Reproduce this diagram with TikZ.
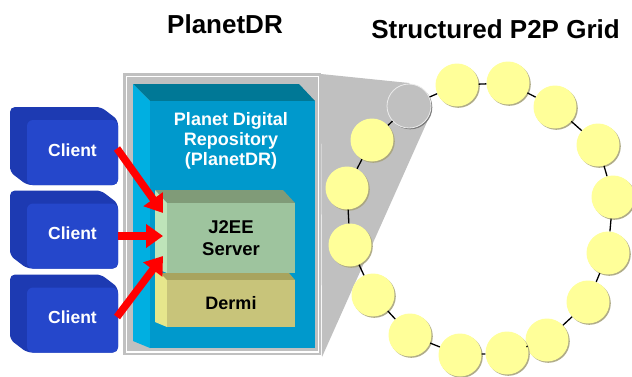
\documentclass[tikz,border=0pt]{standalone}
\usepackage{fontspec}
\setmainfont{Liberation Sans}
\usetikzlibrary{arrows.meta,calc,shadows}
\definecolor{clfront}{HTML}{2547CB}
\definecolor{clback}{HTML}{1D3AB2}
\definecolor{bfront}{HTML}{0099CC}
\definecolor{btop}{HTML}{007896}
\definecolor{bleft}{HTML}{00AFE1}
\definecolor{jfront}{HTML}{9EC49E}
\definecolor{jtop}{HTML}{809B78}
\definecolor{jleft}{HTML}{BEE4B9}
\definecolor{dfront}{HTML}{C8C47A}
\definecolor{dtop}{HTML}{A8A45E}
\definecolor{dleft}{HTML}{E6E68C}
\definecolor{framegray}{HTML}{C0C0C0}
\definecolor{ringyellow}{HTML}{FFFF99}
\definecolor{ringshadow}{HTML}{A8A47C}
\definecolor{arrowred}{HTML}{FF0000}
\begin{document}
\begin{tikzpicture}[x=1pt,y=-1pt,
  title/.style={font=\fontsize{26}{30}\selectfont\bfseries, inner sep=0pt},
  boxtext/.style={font=\fontsize{18}{20}\selectfont\bfseries, align=center},
  face/.style={inner sep=0pt, outer sep=0pt, draw=none},
  clientface/.style={face, fill=clfront, rounded corners=6pt, minimum width=91pt,
     minimum height=65pt, text=white, font=\fontsize{17.5}{20}\selectfont\bfseries, text depth=5pt},
  redarrow/.style={draw=arrowred, line width=7.5pt, -{Triangle[width=23pt,length=17pt]}},
  ycirc/.style={circle, minimum size=43pt, inner sep=0pt, fill=ringyellow,
     drop shadow={shadow xshift=1.3pt, shadow yshift=-1.3pt, fill=ringshadow, opacity=0.9}},
  gcirc/.style={circle, minimum size=44pt, inner sep=0pt, fill=framegray, draw=white!85!gray, line width=0.8pt,
     drop shadow={shadow xshift=1.3pt, shadow yshift=-1.3pt, fill=gray!90!black, opacity=0.9}},
  ringline/.style={draw=black, line width=1.3pt}
]
\useasboundingbox (0,0) rectangle (632,376);
\fill[white] (0,0) rectangle (632,376);

% titles
\node[title, anchor=base] (t1) at (225,33) {PlanetDR};
\node[title, anchor=base] (t2) at (495.5,38) {Structured P2P Grid};

% frame and wedge
\fill[framegray] (123,73) rectangle (321,355);
\draw[white, line width=1.8pt] (126.5,76.5) rectangle (318.5,352);
\fill[framegray] (321,74) -- (409,83) -- (431,113) -- (322,357) -- cycle;

% PlanetDR box
\fill[btop] (133,84) -- (299,84) -- (315,101) -- (150,101) -- cycle;
\fill[bleft] (133,84) -- (150,101) -- (150,348) -- (133,341) -- cycle;
\node[face, fill=bfront, minimum width=165pt, minimum height=247pt] (pdr) at (232.5,224.5) {};
\node[boxtext, text=white, anchor=base] (pdrlabel) at (231,165) {Planet Digital\\Repository\\(PlanetDR)};

% Dermi
\fill[dtop] (158,273) -- (289,273) -- (295,280) -- (167,280) -- cycle;
\fill[dleft] (155,268) -- (167,280) -- (167,327) -- (155,322) -- cycle;
\node[face, fill=dfront, minimum width=128pt, minimum height=47pt, boxtext] (dermi) at (231,303.5) {Dermi};

% J2EE
\fill[jtop] (155,190) -- (283,190) -- (295,203) -- (167,203) -- cycle;
\fill[jleft] (155,190) -- (167,203) -- (167,273) -- (155,268) -- cycle;
\node[face, fill=jfront, minimum width=128pt, minimum height=70pt, boxtext,
      font=\fontsize{18.5}{22}\selectfont\bfseries] (j2ee) at (231,238) {J2EE\\Server};

% clients
\foreach \c/\n in {152.5/c1, 236/c2, 320/c3}{
  \fill[clback, rounded corners=5pt] (10,\c-45.5) -- (101,\c-45.5) -- (118,\c-32.5)
     -- (118,\c+32.5) -- (27,\c+32.5) -- (10,\c+19.5) -- cycle;
  \node[clientface] (\n) at (72.5,\c) {Client};
}

% arrows
\coordinate (in1) at ($(j2ee.west)+(-4,-25)$);
\coordinate (in2) at ($(j2ee.west)+(-4,-2)$);
\coordinate (in3) at ($(j2ee.west)+(-4,18)$);
\draw[redarrow] ($(c1.east)+(-1,-4)$) -- (in1);
\draw[redarrow] (c2.east) -- (in2);
\draw[redarrow] ($(c3.east)+(-1,-3)$) -- (in3);

% ring
\node[gcirc] (n1) at (409,106) {};
\foreach \p/\n in {{(457,85)}/n2, {(508,83)}/n3, {(555,107)}/n4, {(598,145)}/n5,
   {(613,197)}/n6, {(608,253)}/n7, {(588,302)}/n8, {(547,340)}/n9, {(507,353)}/n10,
   {(460,355)}/n11, {(410,335)}/n12, {(373,295)}/n13, {(350,245)}/n14, {(347,188)}/n15,
   {(372,140)}/n16}{
  \node[ycirc] (\n) at \p {};
}
\foreach \a/\b in {n1/n2, n2/n3, n3/n4, n4/n5, n5/n6, n6/n7, n7/n8, n8/n9, n9/n10,
   n10/n11, n11/n12, n12/n13, n13/n14, n14/n15, n15/n16, n16/n1}{
  \draw[ringline] (\a) -- (\b);
}
\end{tikzpicture}
\end{document}
